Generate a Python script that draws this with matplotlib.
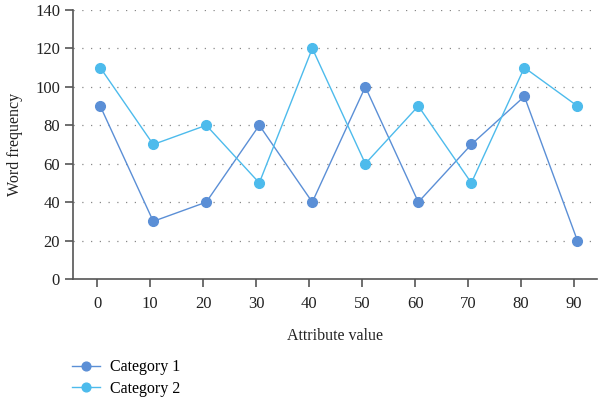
import matplotlib.pyplot as plt
import numpy as np

attr = [0, 10, 20, 30, 40, 50, 60, 70, 80, 90]
cat1 = [90, 30, 40, 80, 40, 100, 40, 70, 95, 20]
cat2 = [110, 70, 80, 50, 120, 60, 90, 50, 110, 90]
yticks = [0, 20, 40, 60, 80, 100, 120, 140]

plt.rcParams['font.family'] = ['Liberation Serif', 'DejaVu Serif']
fig = plt.figure(figsize=(6, 3.98), dpi=100)
ax = fig.add_axes([0.122, 0.299, 0.873, 0.676])

c1 = '#5b8fd6'
c2 = '#4dbbec'
xs = np.array(attr) + 0.6
ax.plot(xs, cat1, color=c1, lw=1, marker='o', ms=7, label='Category 1')
ax.plot(xs, cat2, color=c2, lw=1, marker='o', ms=7, label='Category 2')

ax.set_xlim(-4.5, 94.3)
ax.set_ylim(0, 140)
ax.set_xticks(attr)
ax.set_yticks(yticks)
for y in yticks[1:]:
    ax.axhline(y, color='#888888', lw=0.9, ls=(0, (1, 6)), zorder=0)

for s in ['top', 'right']:
    ax.spines[s].set_visible(False)
for s in ['left', 'bottom']:
    ax.spines[s].set_color('#555555')
    ax.spines[s].set_linewidth(1.2)
ax.tick_params(axis='both', colors='#555555', labelcolor='#222222', labelsize=12, length=6, width=1.2)
ax.tick_params(axis='x', pad=6)

ax.set_xlabel('Attribute value', fontsize=11.5, labelpad=12, color='#222222')
ax.set_ylabel('Word frequency', fontsize=11.5, labelpad=9, color='#222222')

leg = fig.legend(loc='upper left', bbox_to_anchor=(0.12, 0.097), borderaxespad=0, borderpad=0,
                 frameon=False, fontsize=11.5, handlelength=1.75, labelspacing=0.35,
                 handletextpad=0.65, markerscale=0.9)

fig.savefig('out.png', dpi=100)
